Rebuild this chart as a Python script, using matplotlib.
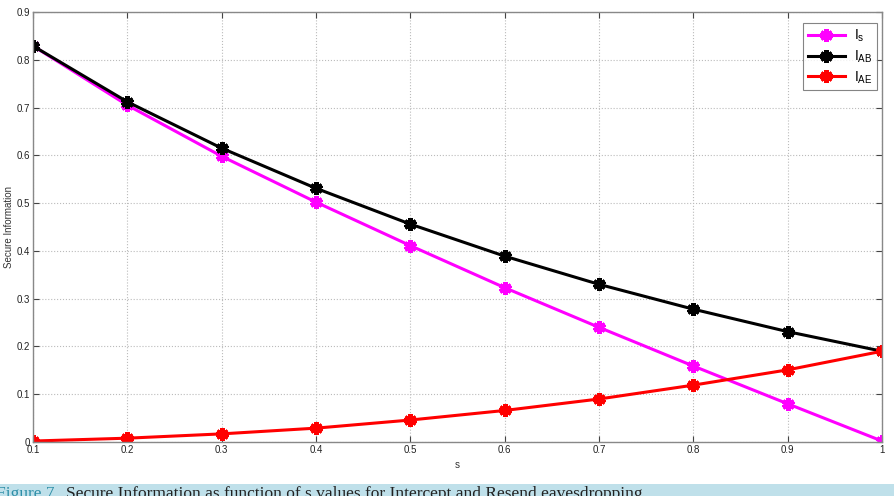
import matplotlib.pyplot as plt
import numpy as np

s = [0.1, 0.2, 0.3, 0.4, 0.5, 0.6, 0.7, 0.8, 0.9, 1.0]
i_s = [0.829, 0.705, 0.598, 0.502, 0.411, 0.323, 0.240, 0.159, 0.080, 0.002]
i_ab = [0.829, 0.712, 0.615, 0.531, 0.456, 0.389, 0.330, 0.278, 0.231, 0.190]
i_ae = [0.002, 0.008, 0.017, 0.029, 0.046, 0.066, 0.090, 0.119, 0.151, 0.190]

xticks = [0.1, 0.2, 0.3, 0.4, 0.5, 0.6, 0.7, 0.8, 0.9, 1]
yticks = [0, 0.1, 0.2, 0.3, 0.4, 0.5, 0.6, 0.7, 0.8, 0.9]

plt.rc('font', family='Liberation Sans')

f = plt.figure(figsize=(8.95, 4.96), dpi=100)
ax = f.add_axes([33/895, 1-442/496, (882-33)/895, (442-12)/496])

# MATLAB-style asterisk drawn thick so it reads as a blob
mk = dict(marker=(6, 2, 0), ms=9, mew=3.2)
ax.plot(s, i_s, color='#ff00ff', lw=2.2, label=r'$\mathregular{I_s}$', **mk)
ax.plot(s, i_ab, color='black', lw=2.2, label=r'$\mathregular{I_{AB}}$', **mk)
ax.plot(s, i_ae, color='#ff0000', lw=2.2, label=r'$\mathregular{I_{AE}}$', **mk)

ax.set_xlim(0.1, 1)
ax.set_ylim(0, 0.9)
ax.set_xticks(xticks)
ax.set_xticklabels(['0.1', '0.2', '0.3', '0.4', '0.5', '0.6', '0.7', '0.8', '0.9', '1'])
ax.set_yticks(yticks)
ax.set_yticklabels(['0', '0.1', '0.2', '0.3', '0.4', '0.5', '0.6', '0.7', '0.8', '0.9'])
ax.tick_params(direction='in', top=True, right=True, labelsize=7, colors='#444444',
               labelcolor='#222222', length=4, pad=2)
ax.grid(True, ls=':', color='#bbbbbb', lw=0.8)
for sp in ax.spines.values():
    sp.set_color('#888888')
    sp.set_linewidth(1.0)

ax.set_xlabel('s', fontsize=7, color='#333333', labelpad=4)
ax.set_ylabel('Secure Information', fontsize=7, color='#333333', labelpad=2)

leg = ax.legend(loc='upper right', fontsize=10, handlelength=2.7, borderpad=0.35,
                labelspacing=0.3, handletextpad=0.6, fancybox=False, edgecolor='#666666',
                bbox_to_anchor=(0.994, 0.974), borderaxespad=0)
leg.get_frame().set_linewidth(0.8)

# caption band at the bottom
band = f.add_axes([0, 0, 1, 12/496])
band.set_facecolor('#bfe0ea')
band.set_xticks([])
band.set_yticks([])
for sp in band.spines.values():
    sp.set_visible(False)
f.text(-0.004, -0.012, 'Figure 7.', fontsize=12.5, family='Liberation Serif', color='#2f8fa8', va='bottom')
f.text(0.074, -0.012, 'Secure Information as function of s values for Intercept and Resend eavesdropping.',
       fontsize=12.5, family='Liberation Serif', color='#222222', va='bottom')

plt.savefig('out.png', dpi=100)
